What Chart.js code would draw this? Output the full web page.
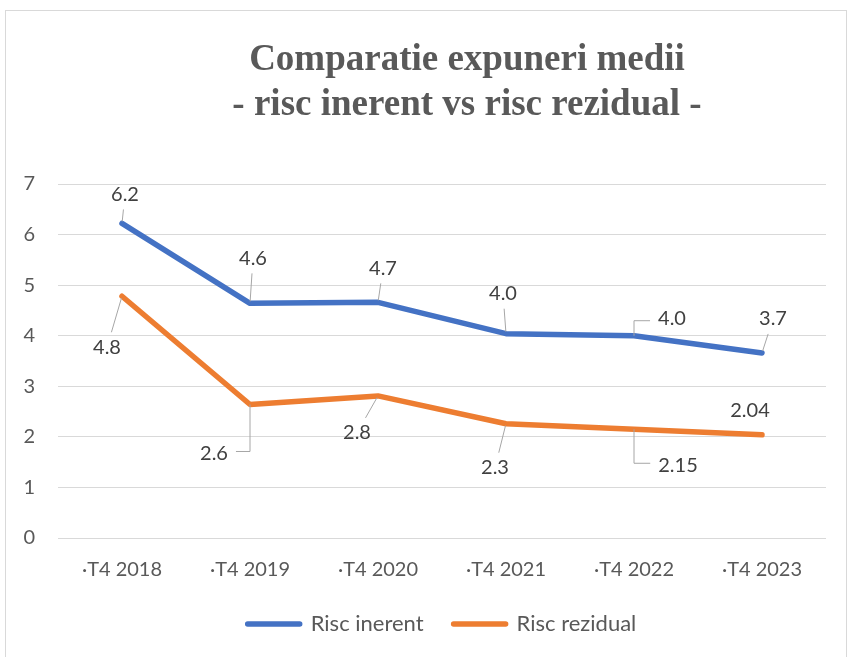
<!DOCTYPE html>
<html>
<head>
<meta charset="utf-8">
<script src="https://cdn.jsdelivr.net/npm/chart.js@4"></script>
<style>
  body { margin: 0; background: #fff; }
  #wrap { position: absolute; left: 5px; top: 10px; width: 840px; height: 660px;
          border: 1px solid #d9d9d9; }
  canvas { display: block; }
</style>
</head>
<body>
<div id="wrap"><canvas id="c" width="840" height="646"></canvas></div>
<script>
// Quarter labels on the x axis.
const categories = ["·T4 2018", "·T4 2019", "·T4 2020", "·T4 2021", "·T4 2022", "·T4 2023"];

// Series values.
const riscInerent  = [6.22, 4.64, 4.66, 4.04, 4.0, 3.66];
const riscRezidual = [4.78, 2.64, 2.81, 2.26, 2.15, 2.04];

// Data label texts as printed on the chart.
const labelsInerent  = ["6.2", "4.6", "4.7", "4.0", "4.0", "3.7"];
const labelsRezidual = ["4.8", "2.6", "2.8", "2.3", "2.15", "2.04"];

const yTicks = [0, 1, 2, 3, 4, 5, 6, 7];

const titleLines = ["Comparatie expuneri medii", "- risc inerent vs risc rezidual -"];

// Label placement relative to its point: [dx, dy, leader type].
const LABEL_POS = [
  [[3, -29, "line"], [3, -45, "line"], [5, -34, "line"], [-3, -40, "line"], [38, -17, "elbow"], [11, -34, "line"]],
  [[-15, 51, "line"], [-36, 49, "elbow"], [-21, 37, "line"], [-11, 44, "line"], [44, 36, "elbow"], [-12, -24, "none"]],
];

const FONT = "Lato";
const BLUE = "#4472C4";
const ORANGE = "#ED7D31";

// Excel-style data labels with grey leader lines.
const labelPlugin = {
  id: "excelLabels",
  afterDatasetsDraw(chart) {
    const ctx = chart.ctx;
    const texts = [labelsInerent, labelsRezidual];
    ctx.save();
    ctx.font = "20px " + FONT;
    ctx.textAlign = "center";
    ctx.textBaseline = "middle";
    chart.data.datasets.forEach((ds, di) => {
      chart.getDatasetMeta(di).data.forEach((pt, i) => {
        const [dx, dy, kind] = LABEL_POS[di][i];
        const text = texts[di][i];
        const w = ctx.measureText(text).width;
        const cx = pt.x + dx, cy = pt.y + dy;
        const gap = 8;
        ctx.strokeStyle = "#a6a6a6";
        ctx.lineWidth = 1;
        if (kind === "line") {
          const hw = w / 2 + gap, hh = 7 + gap;
          const t = Math.min(dx ? hw / Math.abs(dx) : Infinity, dy ? hh / Math.abs(dy) : Infinity);
          const len = Math.hypot(dx, dy);
          ctx.beginPath();
          ctx.moveTo(pt.x + dx / len * 2, pt.y + dy / len * 2);
          ctx.lineTo(cx - dx * t, cy - dy * t);
          ctx.stroke();
        } else if (kind === "elbow") {
          const ex = cx - Math.sign(dx) * (w / 2 + gap);
          ctx.beginPath();
          ctx.moveTo(pt.x, pt.y);
          ctx.lineTo(pt.x, cy - Math.sign(dy) * 2);
          ctx.lineTo(ex, cy - Math.sign(dy) * 2);
          ctx.stroke();
        }
        ctx.fillStyle = "#404040";
        ctx.fillText(text, cx, cy);
      });
    });
    ctx.restore();
  },
};

// Two-line serif title, placed like the original.
const titlePlugin = {
  id: "serifTitle",
  afterDraw(chart) {
    const ctx = chart.ctx;
    ctx.save();
    ctx.font = "bold 37px 'Liberation Serif'";
    ctx.fillStyle = "#595959";
    ctx.textAlign = "center";
    ctx.textBaseline = "alphabetic";
    ctx.fillText(titleLines[0], 461, 59);
    ctx.fillText(titleLines[1], 461, 104);
    ctx.restore();
  },
};

new Chart(document.getElementById("c"), {
  type: "line",
  data: {
    labels: categories,
    datasets: [
      { label: "Risc inerent", data: riscInerent, borderColor: BLUE, backgroundColor: BLUE },
      { label: "Risc rezidual", data: riscRezidual, borderColor: ORANGE, backgroundColor: ORANGE },
    ],
  },
  options: {
    responsive: false,
    animation: false,
    layout: { padding: { top: 173, left: 0, right: 20, bottom: 12 } },
    elements: {
      line: { borderWidth: 5.5, tension: 0, borderCapStyle: "round", borderJoinStyle: "round" },
      point: { radius: 0, hoverRadius: 0 },
    },
    plugins: {
      title: { display: false },
      tooltip: { enabled: false },
      legend: {
        position: "bottom",
        fullSize: false,
        labels: {
          boxWidth: 52, boxHeight: 0, padding: 30,
          color: "#595959", font: { family: FONT, size: 22 },
        },
      },
    },
    scales: {
      x: {
        offset: true,
        grid: { display: false, drawTicks: false },
        border: { display: false },
        ticks: { color: "#595959", padding: 20, font: { family: FONT, size: 20 }, maxRotation: 0 },
        afterFit: (s) => { s.height = 45; },
      },
      y: {
        min: 0, max: 7,
        afterBuildTicks: (s) => { s.ticks = yTicks.map((v) => ({ value: v })); },
        grid: { color: "#d9d9d9", lineWidth: 1, drawTicks: false },
        border: { display: false },
        ticks: { color: "#595959", padding: 23, font: { family: FONT, size: 20 } },
        afterFit: (s) => { s.width = 52; },
      },
    },
  },
  plugins: [labelPlugin, titlePlugin],
});
</script>
</body>
</html>
